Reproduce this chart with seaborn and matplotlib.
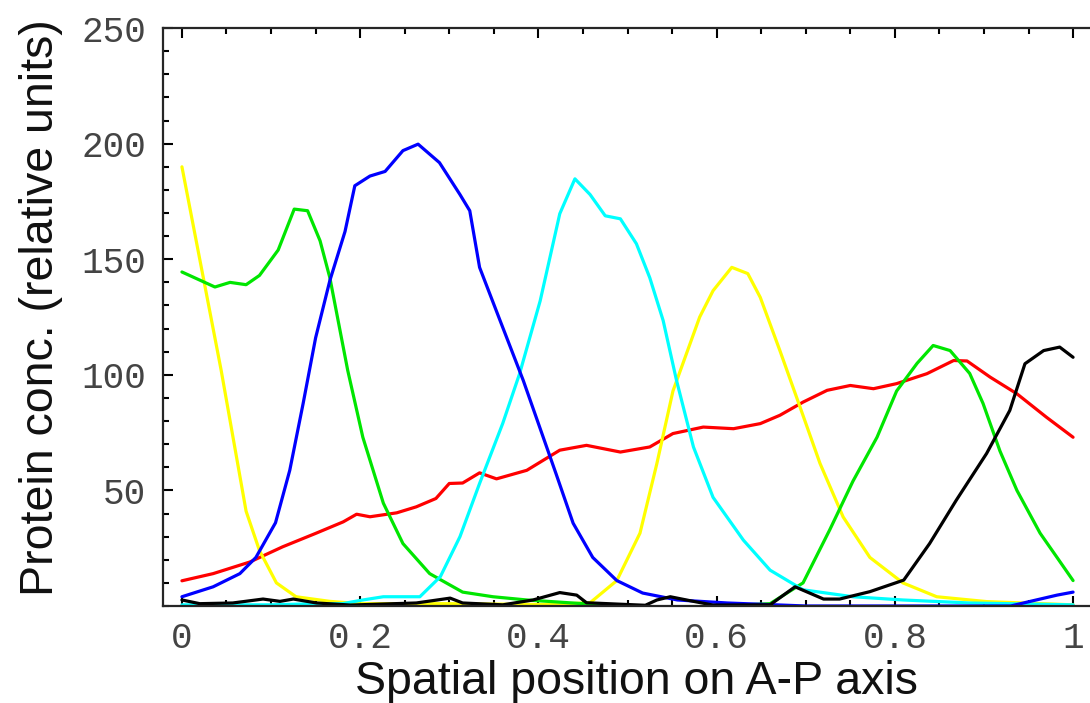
import matplotlib
matplotlib.use("Agg")
import matplotlib.pyplot as plt
from matplotlib.ticker import MultipleLocator
import seaborn as sns
import pandas as pd

# Protein profiles (position along A-P axis, concentration)
yellow_a_x = [0.0, 0.044, 0.072, 0.087, 0.106, 0.128, 0.166, 0.2, 0.3, 0.45, 0.5]
yellow_a_y = [190, 102, 41, 24, 10, 4, 2, 1, 1, 0.5, 0]

yellow_b_x = [0.40, 0.458, 0.488, 0.514, 0.533, 0.551, 0.581, 0.596, 0.617, 0.635, 0.649,
              0.671, 0.69, 0.716, 0.742, 0.772, 0.809, 0.847, 0.903, 1.0]
yellow_b_y = [0.5, 1.4, 11, 31.5, 61.7, 93, 125, 136.4, 146.5, 143.8, 133.5,
              110.5, 90, 61.7, 38.5, 21, 10, 4, 1.9, 0.5]

green_a_x = [0.0, 0.037, 0.054, 0.072, 0.087, 0.108, 0.126, 0.141, 0.155, 0.166, 0.186,
             0.203, 0.226, 0.248, 0.278, 0.315, 0.349, 0.387, 0.45, 0.5]
green_a_y = [144.5, 138, 140, 139, 143, 154, 171.7, 171, 158, 142, 102,
             73, 44.5, 27, 14, 6, 4, 2.6, 1, 0]

green_b_x = [0.6, 0.66, 0.697, 0.727, 0.753, 0.78, 0.802, 0.825, 0.843, 0.862, 0.884,
             0.899, 0.918, 0.937, 0.963, 0.982, 1.0]
green_b_y = [0, 1, 10, 33, 54, 73, 93, 105, 112.7, 110.5, 100.6,
             87.6, 67, 50, 31.5, 21, 11]

blue_x = [0.0, 0.035, 0.065, 0.083, 0.105, 0.121, 0.136, 0.15, 0.166, 0.183, 0.194,
          0.211, 0.228, 0.248, 0.265, 0.289, 0.312, 0.323, 0.334, 0.357, 0.383,
          0.42, 0.439, 0.461, 0.488, 0.517, 0.556, 0.612, 0.7, 0.93, 0.952, 0.982, 1.0]
blue_y = [4, 8.3, 14, 21, 36, 58.7, 87.6, 116, 140.8, 162, 181.8,
          186, 188, 197, 199.8, 191.8, 178, 171, 146.5, 123.5, 97.6,
          57, 35.8, 21, 11, 5.6, 2.6, 1.3, 0, 0, 2, 4.7, 6]

cyan_x = [0.0, 0.1, 0.15, 0.18, 0.203, 0.226, 0.267, 0.29, 0.312, 0.334, 0.36, 0.379,
          0.402, 0.424, 0.441, 0.458, 0.475, 0.492, 0.51, 0.525, 0.54, 0.555,
          0.574, 0.596, 0.63, 0.66, 0.697, 0.753, 0.809, 0.884, 1.0]
cyan_y = [0.5, 0.5, 1, 1, 2.6, 4, 4, 12.7, 30, 53, 79, 100.6,
          132, 169.7, 184.8, 178, 168.8, 167.5, 156.7, 142, 123.5, 97.6,
          68.8, 47, 28.5, 15.5, 7, 4, 2.6, 1.3, 0.5]

red_x = [0.0, 0.035, 0.076, 0.113, 0.15, 0.181, 0.196, 0.211, 0.241, 0.263, 0.285, 0.3,
         0.315, 0.334, 0.353, 0.387, 0.424, 0.454, 0.492, 0.525, 0.551, 0.585, 0.619,
         0.649, 0.671, 0.697, 0.724, 0.75, 0.776, 0.802, 0.836, 0.866, 0.881, 0.907,
         0.937, 0.97, 1.0]
red_y = [10.9, 14, 19, 25.6, 31.4, 36.4, 39.7, 38.6, 40.3, 42.9, 46.5, 53,
         53.2, 57.6, 55, 58.7, 67.4, 69.5, 66.6, 68.8, 74.6, 77.4, 76.7,
         78.9, 82.5, 88.2, 93.3, 95.4, 94, 96.2, 100.5, 106.2, 106, 99,
         91.8, 81.7, 73]

black_x = [0.0, 0.02, 0.057, 0.091, 0.11, 0.125, 0.151, 0.189, 0.263, 0.301, 0.315, 0.36,
           0.394, 0.424, 0.443, 0.454, 0.52, 0.533, 0.548, 0.574, 0.596, 0.66, 0.688,
           0.72, 0.738, 0.772, 0.81, 0.839, 0.869, 0.903, 0.929, 0.946, 0.967, 0.985, 1.0]
black_y = [2.6, 1, 1.3, 3, 2, 3, 1.3, 0.4, 1.3, 3.4, 1.3, 0.5,
           2.6, 5.8, 4.7, 1.4, 0.3, 2.6, 4, 2, 0.4, 0.5, 8.3,
           3, 3, 6.2, 11.2, 27, 45.8, 66, 84.6, 104.8, 110.5, 112, 107.6]

series = [
    ("red", red_x, red_y, "#ff0000"),
    ("yellow_a", yellow_a_x, yellow_a_y, "#ffff00"),
    ("yellow_b", yellow_b_x, yellow_b_y, "#ffff00"),
    ("green_a", green_a_x, green_a_y, "#00e600"),
    ("green_b", green_b_x, green_b_y, "#00e600"),
    ("cyan", cyan_x, cyan_y, "#00ffff"),
    ("blue", blue_x, blue_y, "#0000ff"),
    ("black", black_x, black_y, "#000000"),
]

sns.set_style("ticks")
plt.rcParams["font.family"] = ["Liberation Sans", "DejaVu Sans"]

fig = plt.figure(figsize=(10.9, 7.03), dpi=100)
ax = fig.add_axes([0.1495, 0.138, 0.8505, 0.822])

for name, xs, ys, col in series:
    df = pd.DataFrame({"pos": xs, "conc": ys})
    sns.lineplot(data=df, x="pos", y="conc", ax=ax, color=col, linewidth=2.3,
                 estimator=None, sort=False)

ax.set_xlim(-0.0213, 1.019)
ax.set_ylim(0, 250)

ax.xaxis.set_minor_locator(MultipleLocator(0.05))
ax.yaxis.set_minor_locator(MultipleLocator(10))
ax.set_xticks([0, 0.2, 0.4, 0.6, 0.8, 1.0])
ax.set_xticklabels(["0", "0.2", "0.4", "0.6", "0.8", "1"])
ax.set_yticks([50, 100, 150, 200, 250])
ax.set_yticklabels(["50", "100", "150", "200", "250"])

ax.tick_params(which="both", direction="in", top=True, right=False, width=1.5,
               colors="black")
ax.tick_params(which="major", length=7)
ax.tick_params(axis="x", which="major", pad=11)
ax.tick_params(axis="y", which="major", pad=12)
ax.tick_params(which="minor", length=4)
for lab in ax.get_xticklabels() + ax.get_yticklabels():
    lab.set_fontfamily("Liberation Mono")
    lab.set_fontsize(26)
    lab.set_color("#444444")

ax.spines["right"].set_visible(False)
for s in ["left", "top", "bottom"]:
    ax.spines[s].set_linewidth(1.6)

ax.set_xlabel("Spatial position on A-P axis", fontsize=33.5, color="#111111")
ax.set_ylabel("Protein conc. (relative units)", fontsize=33.5, color="#111111")
ax.xaxis.set_label_coords(0.511, -0.093)
ax.yaxis.set_label_coords(-0.108, 0.517)

fig.savefig("out.png", dpi=100)
